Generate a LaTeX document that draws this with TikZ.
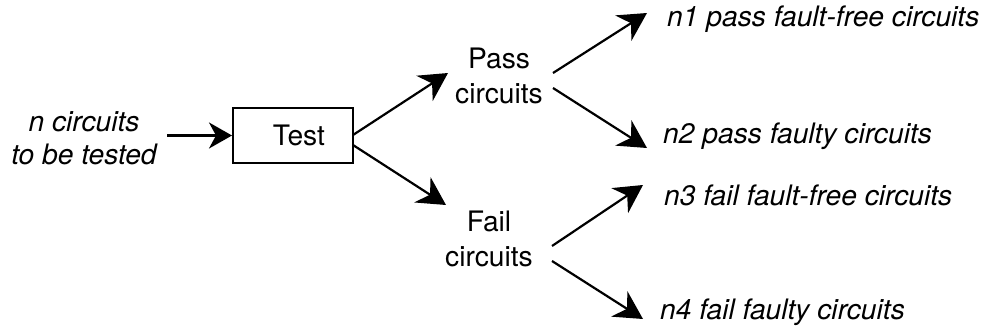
\documentclass[tikz,border=0pt]{standalone}
\usepackage{fontspec}
\setmainfont{TeX Gyre Heros}
\usetikzlibrary{arrows.meta}
\begin{document}
\begin{tikzpicture}[x=1pt,y=-1pt,
  lbl/.style={font=\fontsize{28.2}{34.5}\selectfont, inner sep=0pt, align=center},
  ital/.style={font=\fontsize{28.2}{33}\selectfont\itshape, inner sep=0pt, align=center},
  outlbl/.style={font=\fontsize{28.2}{34}\selectfont\itshape, inner sep=0pt, anchor=base west},
  box/.style={draw, line width=2pt, minimum width=120pt, minimum height=55pt, inner sep=0pt, font=\fontsize{28.2}{34}\selectfont},
  conn/.style={line width=2.2pt, -{Stealth[length=28pt,width=30pt,inset=9pt]}},
  connS/.style={line width=2.2pt, -{Stealth[length=23pt,width=26pt,inset=7pt]}},
]
\useasboundingbox (0,0) rectangle (985,329);

% nodes
\node[ital] (src) at (84,138) {n circuits\\to be tested};
\node[box] (test) at (293,135.5) {\hspace*{12pt}Test};
\node[lbl] (pass) at (499,76) {Pass\\circuits};
\node[lbl] (fail) at (489,239) {Fail\\circuits};
\node[outlbl] (n1) at (667,27) {n1 pass fault-free circuits};
\node[outlbl] (n2) at (663,143) {n2 pass faulty circuits};
\node[outlbl] (n3) at (664,205) {n3 fail fault-free circuits};
\node[outlbl] (n4) at (660,319) {n4 fail faulty circuits};

% connector end points
\coordinate (inS) at (167,135.5);
\coordinate (tU) at (353,135);
\coordinate (tL) at (353,145);
\coordinate (passIn) at (448,73);
\coordinate (failIn) at (446,205);
\coordinate (pU) at (553,73);
\coordinate (pL) at (553,88);
\coordinate (n1In) at (647,13);
\coordinate (n2In) at (647,148);
\coordinate (fU) at (552,246);
\coordinate (fL) at (552,261);
\coordinate (n3In) at (643,185);
\coordinate (n4In) at (643,319);

% connectors
\draw[connS] (inS) -- (test.west);
\draw[conn] (tU) -- (passIn);
\draw[conn] (tL) -- (failIn);
\draw[conn] (pU) -- (n1In);
\draw[conn] (pL) -- (n2In);
\draw[conn] (fU) -- (n3In);
\draw[conn] (fL) -- (n4In);
\end{tikzpicture}
\end{document}
